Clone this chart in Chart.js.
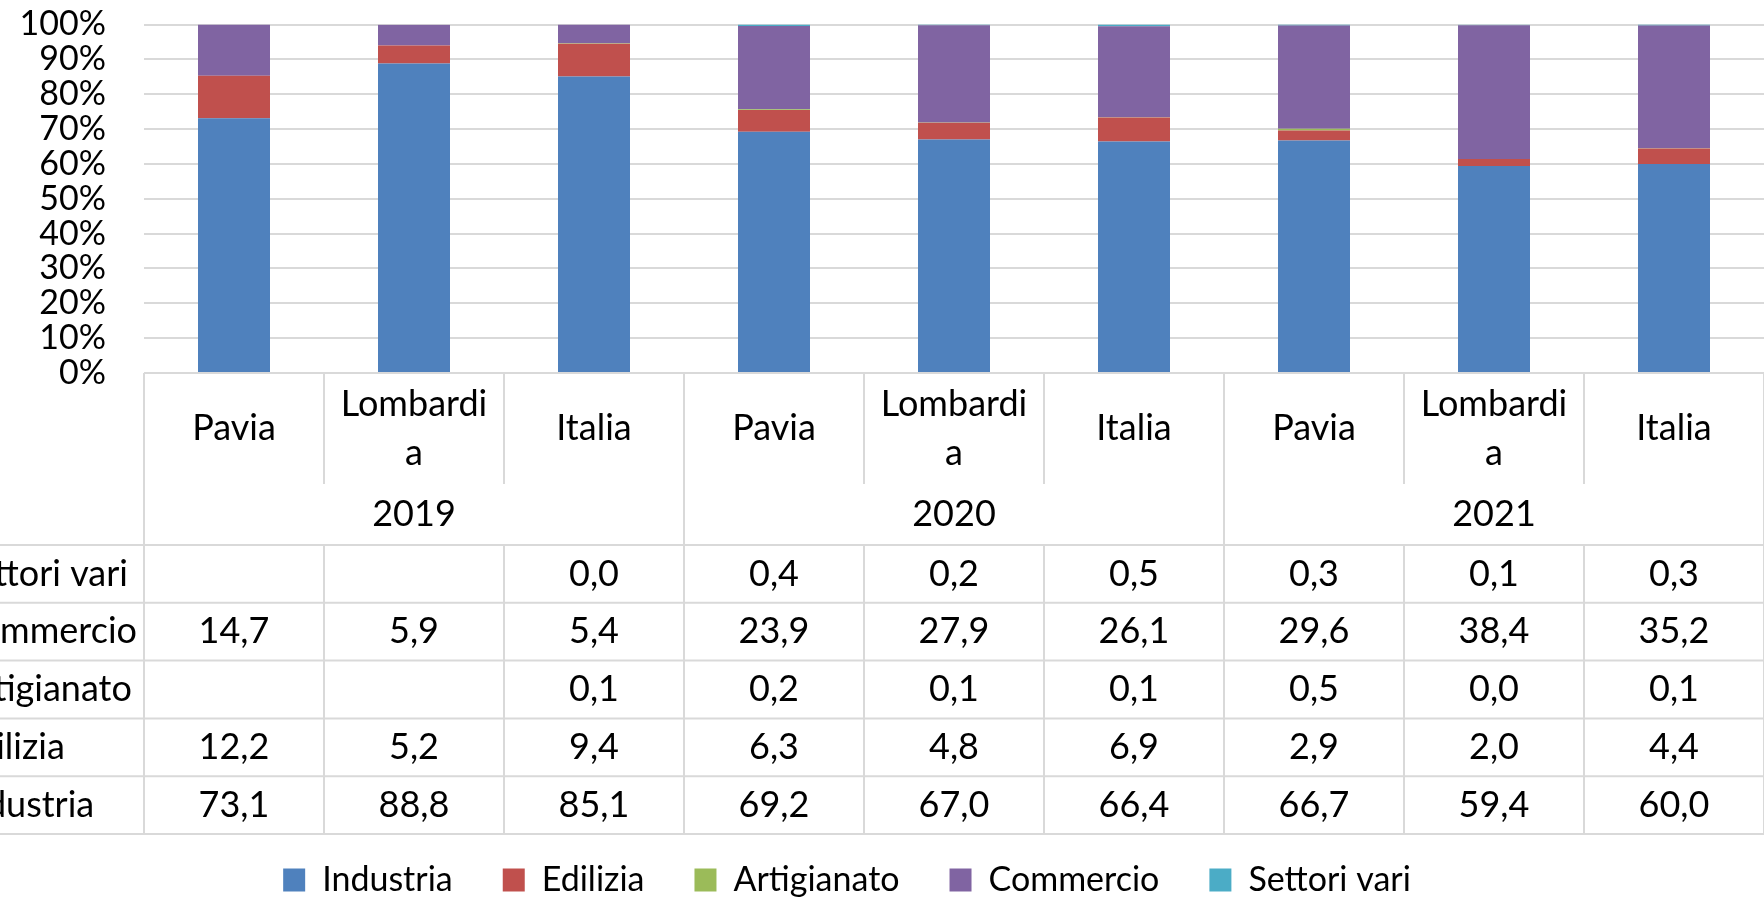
<!DOCTYPE html>
<html>
<head>
<meta charset="utf-8">
<script src="https://cdn.jsdelivr.net/npm/chart.js@4.4.1/dist/chart.umd.min.js"></script>
<style>
  html, body { margin: 0; padding: 0; background: #fff; }
</style>
</head>
<body>
<canvas id="chart" width="1764" height="900"></canvas>
<script>
const years = ['2019', '2020', '2021'];
const areas = ['Pavia', 'Lombardia', 'Italia'];
// how the category names wrap in the table cells
const areaLabels = [['Pavia'], ['Lombardi', 'a'], ['Italia']];
const seriesNames = ['Industria', 'Edilizia', 'Artigianato', 'Commercio', 'Settori vari'];

const industria   = [73.1, 88.8, 85.1, 69.2, 67.0, 66.4, 66.7, 59.4, 60.0];
const edilizia    = [12.2, 5.2, 9.4, 6.3, 4.8, 6.9, 2.9, 2.0, 4.4];
const artigianato = [null, null, 0.1, 0.2, 0.1, 0.1, 0.5, 0.0, 0.1];
const commercio   = [14.7, 5.9, 5.4, 23.9, 27.9, 26.1, 29.6, 38.4, 35.2];
const settoriVari = [null, null, 0.0, 0.4, 0.2, 0.5, 0.3, 0.1, 0.3];

const yTicks = [0, 10, 20, 30, 40, 50, 60, 70, 80, 90, 100];

const colors = ['#4f81bd', '#c0504d', '#9bbb59', '#8064a2', '#4bacc6'];
const seriesValues = [industria, edilizia, artigianato, commercio, settoriVari];

const labels = years.flatMap(y => areas.map(a => a + ' ' + y));
const fmt = v => (v === null || v === undefined) ? '' : v.toFixed(1).replace('.', ',');

const FONT = 'Lato';
const SIZE = 34;       // axis + legend
const TABLE_SIZE = 36; // data table text
const GRID = '#d9d9d9';

// data table under the plot, drawn from the x scale
const tablePlugin = {
  id: 'dataTable',
  afterLayout(chart) {
    // excel centres the legend a bit left of the canvas middle
    const lg = chart.legend;
    lg.left -= 35; lg.right -= 35;
    lg.top += 7; lg.bottom += 7;
  },
  afterDraw(chart) {
    const ctx = chart.ctx;
    const xs = chart.scales.x;
    const area = chart.chartArea;
    const n = labels.length;
    const colW = xs.getPixelForValue(1) - xs.getPixelForValue(0);
    const edge = i => xs.getPixelForValue(0) - colW / 2 + i * colW;
    const top = area.bottom;
    const catBottom = top + 111;
    const yearBottom = catBottom + 61;
    const rowH = 57.8;
    const rows = chart.data.datasets.slice().reverse();
    const tableBottom = yearBottom + rows.length * rowH;

    ctx.save();
    ctx.strokeStyle = GRID;
    ctx.lineWidth = 2;
    ctx.beginPath();
    for (let i = 0; i <= n; i++) {
      const x = edge(i);
      ctx.moveTo(x, top); ctx.lineTo(x, catBottom);
      if (i % areas.length === 0) { ctx.moveTo(x, catBottom); ctx.lineTo(x, yearBottom); }
      ctx.moveTo(x, yearBottom); ctx.lineTo(x, tableBottom);
    }
    for (let r = 0; r <= rows.length; r++) {
      const y = yearBottom + r * rowH;
      ctx.moveTo(0, y); ctx.lineTo(area.right, y);
    }
    ctx.stroke();

    ctx.fillStyle = '#000';
    ctx.font = TABLE_SIZE + 'px ' + FONT;
    ctx.textAlign = 'center';
    ctx.textBaseline = 'alphabetic';
    // category row
    for (let i = 0; i < n; i++) {
      const cx = xs.getPixelForValue(i);
      const lines = areaLabels[i % areas.length];
      const base = top + 67 - (lines.length - 1) * 24.5;
      lines.forEach((t, k) => ctx.fillText(t, cx, base + k * 49));
    }
    // year row
    years.forEach((y, g) => {
      const cx = (edge(g * areas.length) + edge((g + 1) * areas.length)) / 2;
      ctx.fillText(y, cx, catBottom + 42);
    });
    // value rows
    ctx.textBaseline = 'middle';
    rows.forEach((ds, r) => {
      const cy = yearBottom + r * rowH + rowH / 2;
      ctx.textAlign = 'left';
      ctx.fillText(ds.label, -44, cy);
      ctx.textAlign = 'center';
      ds.data.forEach((v, i) => ctx.fillText(fmt(v), xs.getPixelForValue(i), cy));
    });
    ctx.restore();
  }
};

document.fonts.load(TABLE_SIZE + 'px ' + FONT).then(() => {
  Chart.defaults.font.family = FONT;
  Chart.defaults.font.size = SIZE;
  Chart.defaults.color = '#000';

  new Chart(document.getElementById('chart'), {
    type: 'bar',
    data: {
      labels: labels,
      datasets: seriesNames.map((name, i) => ({
        label: name,
        data: seriesValues[i],
        backgroundColor: colors[i],
        borderWidth: 0,
        barPercentage: 0.4,
        categoryPercentage: 1.0,
      })),
    },
    options: {
      responsive: false,
      devicePixelRatio: 1,
      animation: false,
      layout: { padding: { top: 24.5, left: 0, right: 0, bottom: 0 } },
      plugins: {
        tooltip: { enabled: false },
        legend: {
          position: 'bottom',
          labels: {
            boxWidth: 22,
            boxHeight: 23,
            padding: 50,
            color: '#000',
            font: { size: SIZE, family: FONT },
          },
        },
      },
      scales: {
        x: {
          stacked: true,
          ticks: { display: false },
          grid: { display: false },
          border: { display: false },
          afterFit(scale) { scale.height = 433; },
        },
        y: {
          stacked: true,
          min: 0,
          max: 100,
          afterFit(scale) {
            scale.width = 144;
            scale.paddingTop = 20;
            scale.paddingBottom = 20;
          },
          afterBuildTicks(scale) { scale.ticks = yTicks.map(v => ({ value: v })); },
          ticks: {
            padding: 38,
            autoSkip: false,
            callback: v => v + '%',
          },
          grid: { color: GRID, lineWidth: 2, drawTicks: false },
          border: { display: false },
        },
      },
    },
    plugins: [tablePlugin],
  });
});
</script>
</body>
</html>
